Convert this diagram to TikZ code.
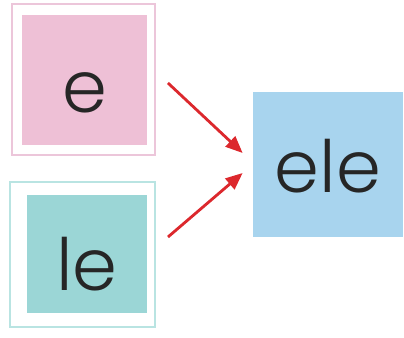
\documentclass[tikz,border=0pt]{standalone}
\usepackage{fontspec}
\setmainfont{Poppins}[UprightFont=* Light]
\definecolor{rosaQuadro}{RGB}{238,192,214}
\definecolor{rosaMoldura}{RGB}{236,198,218}
\definecolor{verdeQuadro}{RGB}{155,214,214}
\definecolor{verdeMoldura}{RGB}{185,228,226}
\definecolor{azulQuadro}{RGB}{168,212,238}
\definecolor{vermelhoSeta}{RGB}{220,40,45}
\usetikzlibrary{arrows.meta,positioning}
\tikzset{
  quadro/.style={rectangle, inner sep=0pt, text height=1.4cm, text depth=0.08cm,
                 font=\fontsize{41}{46}\selectfont, text=black!85},
  moldura/.style={rectangle, draw, line width=1.1pt, inner sep=0pt},
  seta/.style={-{Triangle[length=3.4mm,width=2.8mm]}, line width=1.6pt, vermelhoSeta},
}

\begin{document}
\begin{tikzpicture}
  \useasboundingbox (0,0) rectangle (8.08,-6.76);
  % silabas
  \node[moldura, draw=rosaMoldura, minimum width=2.86cm, minimum height=3.02cm] (me) at (1.67,-1.59) {};
  \node[quadro, fill=rosaQuadro, minimum width=2.5cm, minimum height=2.6cm] (e) at (1.69,-1.60) {e};
  \node[moldura, draw=verdeMoldura, minimum width=2.9cm, minimum height=2.9cm] (mle) at (1.65,-5.09) {};
  \node[quadro, fill=verdeQuadro, minimum width=2.4cm, minimum height=2.36cm,
        text height=1.52cm] (le) at (1.74,-5.08) {le};
  % palavra
  \node[quadro, fill=azulQuadro, minimum width=3cm, minimum height=2.9cm,
        text height=1.22cm] (ele) at (6.56,-3.29) {ele};
  \draw[seta] ([xshift=0.24cm,yshift=-0.07cm]me.east) -- ([xshift=-0.2cm,yshift=0.23cm]ele.west);
  \draw[seta] ([xshift=0.24cm,yshift=0.35cm]mle.east) -- ([xshift=-0.2cm,yshift=-0.17cm]ele.west);
\end{tikzpicture}
\end{document}
